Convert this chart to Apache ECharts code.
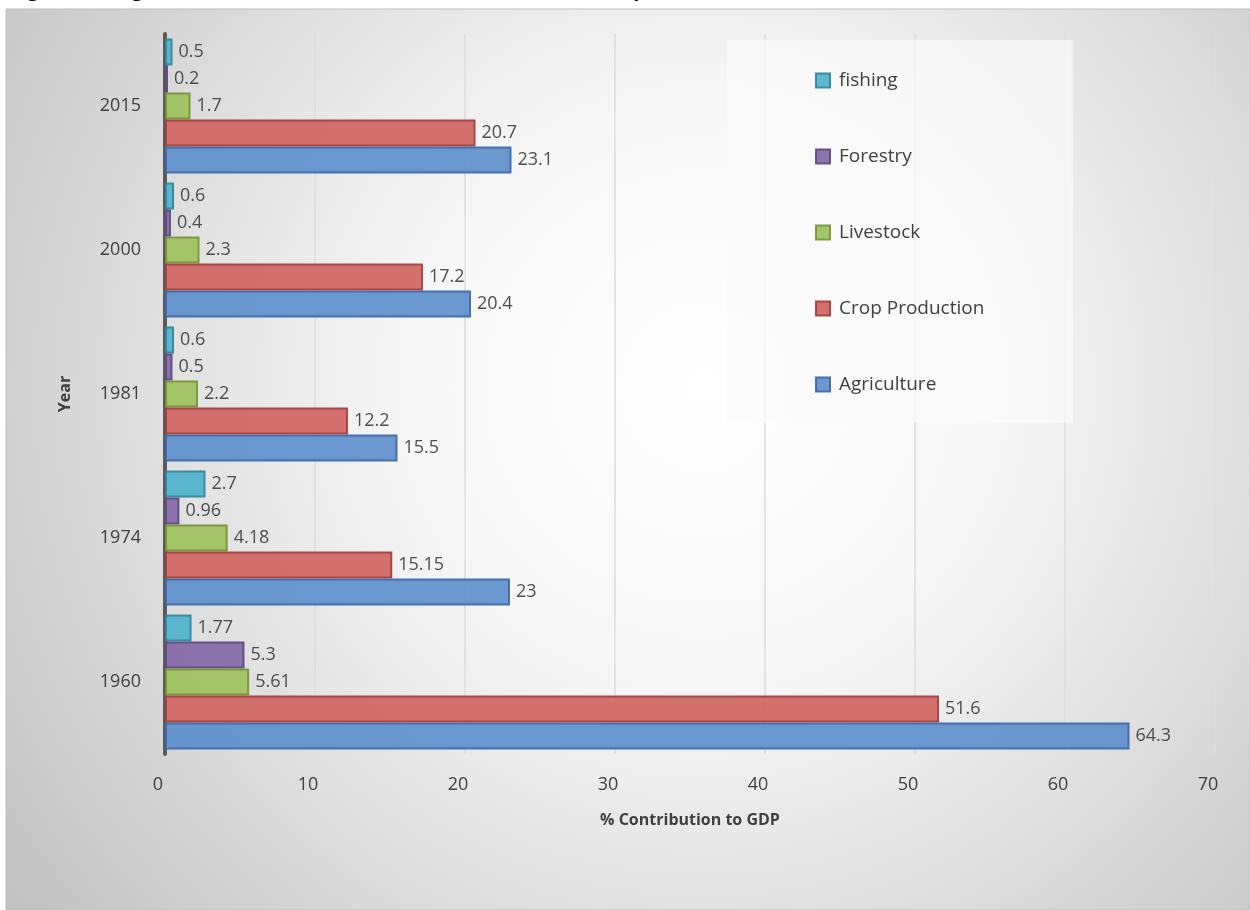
<!DOCTYPE html>
<html lang="en">
<head>
    <meta charset="UTF-8">
    <title>% Contribution to GDP</title>
    <script src="https://cdn.jsdelivr.net/npm/echarts@6/dist/echarts.min.js"></script>
    <style>
        html, body { margin: 0; padding: 0; background: #fff; }
        #main { width: 1250px; height: 910px; }
    </style>
</head>
<body>
    <div id="main"></div>
    <script>
        // categories and values
        var years = ['1960', '1974', '1981', '2000', '2015'];
        var agriculture = [64.3, 23, 15.5, 20.4, 23.1];
        var cropProduction = [51.6, 15.15, 12.2, 17.2, 20.7];
        var livestock = [5.61, 4.18, 2.2, 2.3, 1.7];
        var forestry = [5.3, 0.96, 0.5, 0.4, 0.2];
        var fishing = [1.77, 2.7, 0.6, 0.6, 0.5];
        var legendOrder = ['fishing', 'Forestry', 'Livestock', 'Crop Production', 'Agriculture'];

        var font = '"Open Sans", "Noto Sans", sans-serif';

        function barSeries(name, data, color, edge) {
            return {
                name: name,
                type: 'bar',
                data: data,
                barWidth: 27,
                barGap: '0%',
                itemStyle: {
                    color: color,
                    borderColor: edge,
                    borderWidth: 2,
                    opacity: 0.92
                },
                label: {
                    show: true,
                    position: 'right',
                    distance: 6,
                    color: '#404040',
                    fontSize: 18,
                    fontFamily: font
                }
            };
        }

        var myChart = echarts.init(document.getElementById('main'));

        var option = {
            animation: false,
            graphic: [
                {
                    type: 'rect',
                    z: -10,
                    shape: { x: 6, y: 9, width: 1244, height: 901 },
                    style: {
                        fill: {
                            type: 'radial', x: 0.56, y: 0.42, r: 0.95,
                            colorStops: [
                                { offset: 0, color: '#ffffff' },
                                { offset: 0.35, color: '#f6f6f6' },
                                { offset: 1, color: '#c2c2c2' }
                            ]
                        },
                        stroke: '#bdbdbd',
                        lineWidth: 1
                    }
                },
                {
                    // legend panel
                    type: 'rect',
                    z: 3,
                    shape: { x: 727, y: 40, width: 346, height: 383 },
                    style: { fill: 'rgba(250,250,250,0.72)' }
                },
                {
                    // title sits mostly above the cropped top edge
                    type: 'text',
                    z: 5,
                    x: 8,
                    y: 1,
                    style: {
                        text: 'Figure 3.1: Agriculture Sector Contribution to the National GDP by Sub-Sector',
                        font: 'bold 22px "Liberation Serif", serif',
                        fill: '#000',
                        verticalAlign: 'bottom'
                    }
                }
            ],
            legend: {
                orient: 'vertical',
                left: 810,
                top: 66,
                itemWidth: 14,
                itemHeight: 14,
                itemGap: 57,
                icon: 'rect',
                data: legendOrder,
                textStyle: { color: '#404040', fontSize: 19, fontFamily: font, padding: [0, 0, 0, 4] }
            },
            grid: {
                left: 165,
                top: 34,
                width: 1050,
                height: 720,
                containLabel: false
            },
            xAxis: {
                type: 'value',
                min: 0,
                max: 70,
                interval: 10,
                name: '% Contribution to GDP',
                nameLocation: 'middle',
                nameGap: 58,
                nameTextStyle: { color: '#404040', fontSize: 16, fontWeight: 'bold', fontFamily: font },
                axisLine: { show: false },
                axisTick: { show: false },
                axisLabel: { color: '#404040', fontSize: 18, fontFamily: font, margin: 22, padding: [0, 14, 0, 0] },
                splitLine: { show: true, lineStyle: { color: '#dcdcdc', width: 1.5 } }
            },
            yAxis: {
                type: 'category',
                data: years,
                offset: 8,
                name: 'Year',
                nameLocation: 'middle',
                nameGap: 84,
                nameRotate: 90,
                nameTextStyle: { color: '#404040', fontSize: 16, fontWeight: 'bold', fontFamily: font },
                axisLine: { show: true, lineStyle: { color: '#5a5a5a', width: 4 } },
                axisTick: { show: false },
                axisLabel: { color: '#404040', fontSize: 18, fontFamily: font, margin: 16 },
                splitLine: { show: false }
            },
            // first series is drawn at the top of each group
            series: [
                barSeries('fishing', fishing, '#4fb3cc', '#31859c'),
                barSeries('Forestry', forestry, '#8468a6', '#5e4a7e'),
                barSeries('Livestock', livestock, '#9dc15c', '#76933c'),
                barSeries('Crop Production', cropProduction, '#cf6563', '#a43e3b'),
                barSeries('Agriculture', agriculture, '#5f8fcd', '#3c69a6')
            ]
        };

        myChart.setOption(option);
    </script>
</body>
</html>
